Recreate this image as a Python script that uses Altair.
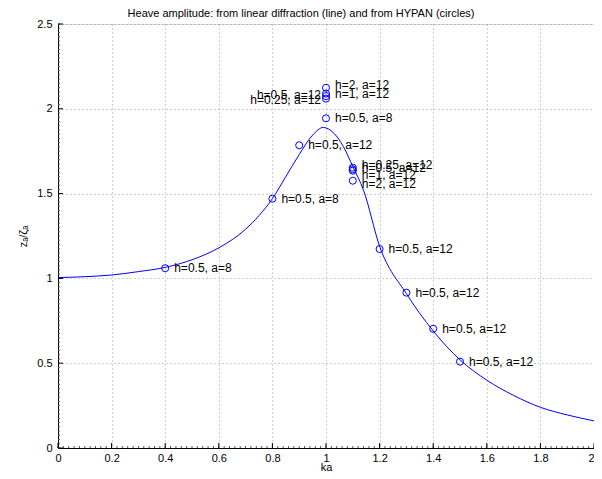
import altair as alt
import pandas as pd
import numpy as np

# Linear diffraction curve
curve_ka = [0.0, 0.1, 0.2, 0.3, 0.4, 0.5, 0.6, 0.7, 0.75, 0.8, 0.85, 0.9, 0.95,
            0.99, 1.03, 1.065, 1.1, 1.14, 1.2, 1.3, 1.4, 1.5, 1.6, 1.7, 1.8, 1.9, 2.0]
curve_z = [1.005, 1.01, 1.02, 1.04, 1.065, 1.11, 1.18, 1.29, 1.37, 1.47, 1.6, 1.73, 1.845,
           1.89, 1.855, 1.777, 1.66, 1.52, 1.19, 0.91, 0.69, 0.52, 0.40, 0.31, 0.24, 0.195, 0.16]

# HYPAN points
pts_ka = [0.4, 0.8, 0.9, 1.0, 1.0, 1.0, 1.0, 1.0, 1.1, 1.1, 1.1, 1.1, 1.2, 1.3, 1.4, 1.5]
pts_z = [1.06, 1.47, 1.785, 1.944, 2.124, 2.09, 2.075, 2.06, 1.653, 1.643, 1.635, 1.576,
         1.173, 0.916, 0.703, 0.509]
labels = ["h=0.5, a=8", "h=0.5, a=8", "h=0.5, a=12", "h=0.5, a=8", "h=2, a=12", "h=1, a=12",
          "h=0.5, a=12", "h=0.25, a=12", "h=0.25, a=12", "h=0.5, a=12", "h=1, a=12",
          "h=2, a=12", "h=0.5, a=12", "h=0.5, a=12", "h=0.5, a=12", "h=0.5, a=12"]
label_z = [1.06, 1.47, 1.785, 1.944, 2.14, 2.09, 2.08, 2.05, 1.669, 1.651, 1.61, 1.557,
           1.173, 0.916, 0.703, 0.509]
label_side = ["right", "right", "right", "right", "right", "right", "left", "left",
              "right", "right", "right", "right", "right", "right", "right", "right"]

x_ticks = [0, 0.2, 0.4, 0.6, 0.8, 1.0, 1.2, 1.4, 1.6, 1.8, 2.0]
y_ticks = [0, 0.5, 1.0, 1.5, 2.0, 2.5]
x_minor = [round(v, 3) for v in np.arange(0, 2.0001, 0.02)]
y_minor = [round(v, 4) for v in np.arange(0, 2.5001, 0.025)]

W, H = 536, 424
BLUE = "#0000ff"
FONT = "Liberation Sans"

curve = pd.DataFrame({"ka": curve_ka, "z": curve_z})
pts = pd.DataFrame({"ka": pts_ka, "z": pts_z, "label": labels, "lz": label_z, "side": label_side})

xs = alt.Scale(domain=[0, 2], nice=False, zero=False)
ys = alt.Scale(domain=[0, 2.5], nice=False, zero=False)

xaxis = alt.Axis(values=x_ticks, format="~g", grid=True, gridDash=[1, 3], gridColor="#888888",
                 gridOpacity=0.8, tickSize=0, labelPadding=4, labelFontSize=11,
                 labelFont=FONT, labelColor="#000", title="ka", titleFont=FONT,
                 titleFontSize=11, titleFontWeight="normal", titleColor="#000",
                 titleY=19, titleBaseline="middle", domainColor="#000", domainWidth=1,
                 labelAlign=alt.condition(alt.datum.value >= 2, alt.value("right"), alt.value("center")))
yaxis = alt.Axis(values=y_ticks, format="~g", grid=True, gridDash=[1, 3], gridColor="#888888",
                 gridOpacity=0.8, tickSize=0, labelPadding=6, labelFontSize=11,
                 labelFont=FONT, labelColor="#000", title="zₐ/ζₐ", titleFont=FONT,
                 titleFontSize=11, titleFontWeight="normal", titleColor="#000",
                 titlePadding=8, domainColor="#000", domainWidth=1)

line = alt.Chart(curve).mark_line(color=BLUE, strokeWidth=1, interpolate="monotone").encode(
    x=alt.X("ka:Q", scale=xs, axis=xaxis),
    y=alt.Y("z:Q", scale=ys, axis=yaxis),
)

circles = alt.Chart(pts).mark_point(shape="circle", filled=False, color=BLUE, size=50,
                                    strokeWidth=1, opacity=1).encode(
    x=alt.X("ka:Q", scale=xs), y=alt.Y("z:Q", scale=ys))

text_r = alt.Chart(pts).transform_filter(alt.datum.side == "right").mark_text(
    align="left", baseline="middle", dx=9, font=FONT, fontSize=12, color="#000").encode(
    x=alt.X("ka:Q", scale=xs), y=alt.Y("lz:Q", scale=ys), text="label:N")

text_l = alt.Chart(pts).transform_filter(alt.datum.side == "left").mark_text(
    align="right", baseline="middle", dx=-5, font=FONT, fontSize=12, color="#000").encode(
    x=alt.X("ka:Q", scale=xs), y=alt.Y("lz:Q", scale=ys), text="label:N")

# inward major ticks
xt = alt.Chart(pd.DataFrame({"v": x_ticks})).mark_rule(color="#000", strokeWidth=1).encode(
    x=alt.X("v:Q", scale=xs), y=alt.value(H), y2=alt.value(H - 5))
yt = alt.Chart(pd.DataFrame({"v": y_ticks})).mark_rule(color="#000", strokeWidth=1).encode(
    y=alt.Y("v:Q", scale=ys), x=alt.value(0), x2=alt.value(5))
# inward minor ticks
xm = alt.Chart(pd.DataFrame({"v": x_minor})).mark_rule(color="#555", strokeWidth=1).encode(
    x=alt.X("v:Q", scale=xs), y=alt.value(H), y2=alt.value(H - 2))
ym = alt.Chart(pd.DataFrame({"v": y_minor})).mark_rule(color="#555", strokeWidth=1).encode(
    y=alt.Y("v:Q", scale=ys), x=alt.value(0), x2=alt.value(2))

chart = alt.layer(line, xm, ym, xt, yt, circles, text_r, text_l).properties(
    width=W, height=H,
    autosize=alt.AutoSizeParams(type="none"),
    padding={"left": 50, "top": 16, "right": 0, "bottom": 23},
    title=alt.TitleParams("Heave amplitude: from linear diffraction (line) and from HYPAN (circles)",
                          font=FONT, fontSize=11, fontWeight="normal", color="#000",
                          anchor="middle", frame="group", offset=5, dx=-25, dy=6),
).configure_view(stroke=None).configure(background="white")

chart.save("out.html", embed_options={"renderer": "svg", "actions": False})
